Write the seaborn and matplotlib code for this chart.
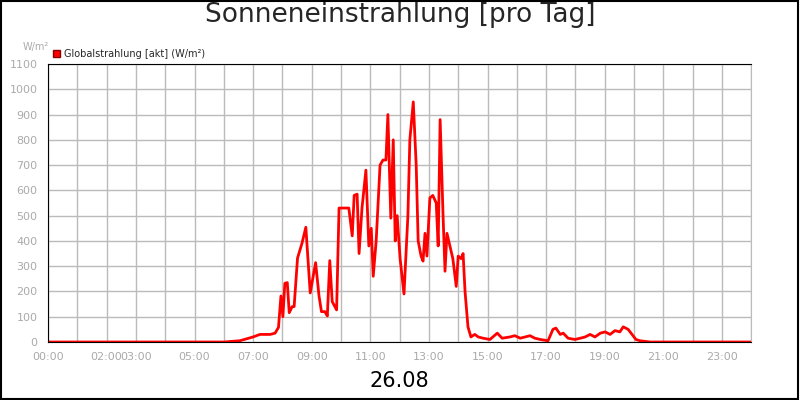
import pandas as pd
import matplotlib.pyplot as plt
import seaborn as sns
from matplotlib.patches import Patch

# === Data (minutes of day, W/m²) ===
minutes = [0, 360, 393, 420, 434, 455, 465, 472, 477, 481, 485, 490, 494, 500, 504,
           511, 520, 528, 537, 548, 555, 560, 567, 572, 577, 582, 591, 596,
           606, 616, 623, 627, 633, 637, 643, 651, 657, 662, 666, 672, 680, 686, 692,
           696, 702, 707, 711, 715, 721, 729, 737, 741, 748, 754, 758, 764, 768, 772,
           776, 782, 788, 795, 799, 803, 809, 813, 817, 823, 829, 836, 840, 846, 850,
           854, 860, 866, 874, 881, 891, 905, 920, 930, 946, 956, 967, 977, 987, 997,
           1008, 1024, 1034, 1040, 1049, 1055, 1065, 1079, 1090, 1100, 1110, 1120,
           1131, 1141, 1151, 1161, 1171, 1178, 1188, 1196, 1204, 1212, 1233, 1440]
values = [0, 0, 5, 20, 30, 30, 35, 58, 182, 100, 232, 235, 116, 140, 140,
          332, 390, 454, 194, 314, 182, 120, 120, 103, 322, 160, 127, 530,
          530, 530, 420, 580, 585, 350, 530, 680, 380, 450, 260, 400, 700, 720, 720,
          900, 490, 800, 400, 500, 330, 190, 500, 800, 950, 700, 400, 340, 320, 430,
          340, 570, 580, 550, 380, 880, 500, 280, 430, 380, 330, 220, 340, 330, 350,
          200, 60, 20, 30, 20, 15, 10, 35, 15, 20, 25, 15, 20, 25, 15,
          10, 5, 50, 55, 30, 35, 15, 10, 15, 20, 30, 20,
          35, 40, 30, 45, 40, 60, 50, 30, 10, 5, 0, 0]
tick_hours = [0, 2, 3, 5, 7, 9, 11, 13, 15, 17, 19, 21, 23]
series_label = "Globalstrahlung [akt] (W/m²)"

df = pd.DataFrame({"hour": [m / 60 for m in minutes], "value": values})

sns.set_style("white")
fig = plt.figure(figsize=(8, 4), dpi=100)
ax = fig.add_axes([0.06, 0.145, 0.879, 0.695])

sns.lineplot(data=df, x="hour", y="value", color="#ff0000", linewidth=2, ax=ax, legend=False)

ax.set_xlim(0, 24)
ax.set_ylim(0, 1100)
ax.set_yticks(range(0, 1101, 100))
ax.set_xticks(range(0, 25))
ax.set_xticklabels([f"{h:02d}:00" if h in tick_hours else "" for h in range(0, 25)])
ax.grid(True, color="#bbbbbb", linewidth=1)
ax.tick_params(colors="#bbbbbb", labelsize=8, length=4, labelcolor="#aaaaaa")
for s in ["left", "bottom", "top"]:
    ax.spines[s].set_color("black")
ax.spines["right"].set_color("#bbbbbb")
ax.set_xlabel("26.08", fontsize=15, color="black", labelpad=6)
ax.set_ylabel("")

# legend with a small red square
ax.legend(handles=[Patch(facecolor="#ff0000", edgecolor="#880000", label=series_label)],
          loc="lower left", bbox_to_anchor=(0.0, 1.0), frameon=False,
          fontsize=7, handlelength=0.7, handleheight=0.7, handletextpad=0.4,
          borderaxespad=0.3, borderpad=0.2)

fig.suptitle("Sonneneinstrahlung [pro Tag]", fontsize=19, y=0.995)
fig.text(0.028, 0.875, "W/m²", fontsize=7, color="#aaaaaa")
fig.patches.append(plt.Rectangle((0.001, 0.002), 0.997, 0.995, transform=fig.transFigure,
                                 fill=False, edgecolor="black", linewidth=1.5))

fig.savefig("out.png", dpi=100)
